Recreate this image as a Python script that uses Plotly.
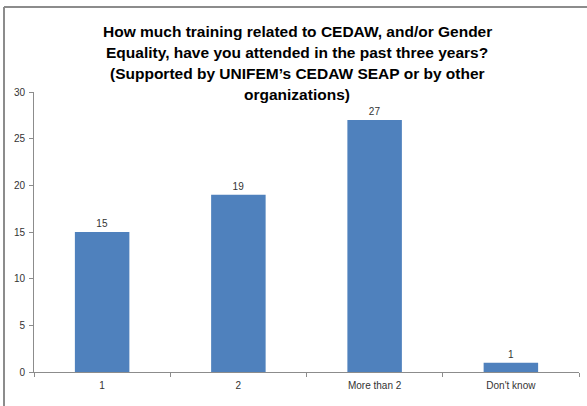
import plotly.graph_objects as go

categories = ["1", "2", "More than 2", "Don't know"]
values = [15, 19, 27, 1]
y_ticks = [0, 5, 10, 15, 20, 25, 30]
title_lines = [
    "How much training related to CEDAW, and/or Gender",
    "Equality, have you attended in the past three years?",
    "(Supported by UNIFEM\u2019s CEDAW SEAP or by other",
    "organizations)",
]
title_line_px = [31, 52, 73, 94]

W, H = 587, 406
L, R, T, B = 34, 8, 92, 34
pw, ph = W - L - R, H - T - B

def px_x(p):
    return (p - L) / pw

def px_y(p):
    return (H - B - p) / ph

fig = go.Figure(go.Bar(
    x=categories, y=values, width=0.4,
    marker=dict(color="#4F81BD", line=dict(width=0)),
    text=[str(v) for v in values], textposition="outside",
    textfont=dict(size=10, color="#333333", family="Liberation Sans"),
    cliponaxis=False,
))

grey = "#8c8c8c"
annotations = [
    dict(text=t, xref="paper", yref="paper", x=px_x(297), y=px_y(yp),
         xanchor="center", yanchor="middle", showarrow=False,
         font=dict(family="Liberation Sans", size=15.5, color="black", weight="bold"))
    for t, yp in zip(title_lines, title_line_px)
]

fig.update_layout(
    width=W, height=H,
    margin=dict(l=L, r=R, t=T, b=B),
    plot_bgcolor="white", paper_bgcolor="white",
    showlegend=False,
    annotations=annotations,
    xaxis=dict(
        showline=True, linecolor=grey, linewidth=1,
        ticks="outside", tickson="boundaries", ticklen=4, tickcolor=grey,
        ticklabelstandoff=4,
        tickfont=dict(size=10, color="#333333", family="Liberation Sans"),
        showgrid=False,
    ),
    yaxis=dict(
        range=[0, 30], tickvals=y_ticks,
        showline=True, linecolor=grey, linewidth=1,
        ticks="outside", ticklen=4, tickcolor=grey,
        ticklabelstandoff=2,
        tickfont=dict(size=10, color="#333333", family="Liberation Sans"),
        showgrid=False, zeroline=False,
    ),
    shapes=[
        dict(type="line", xref="paper", yref="paper",
             x0=px_x(4), x1=px_x(W + 5), y0=px_y(7), y1=px_y(7),
             line=dict(color=grey, width=2)),
        dict(type="line", xref="paper", yref="paper",
             x0=px_x(4), x1=px_x(4), y0=px_y(7), y1=px_y(H + 5),
             line=dict(color=grey, width=2)),
    ],
)

fig.write_html("out.html", config={"displayModeBar": False},
               post_script="document.body.style.margin='0';")
